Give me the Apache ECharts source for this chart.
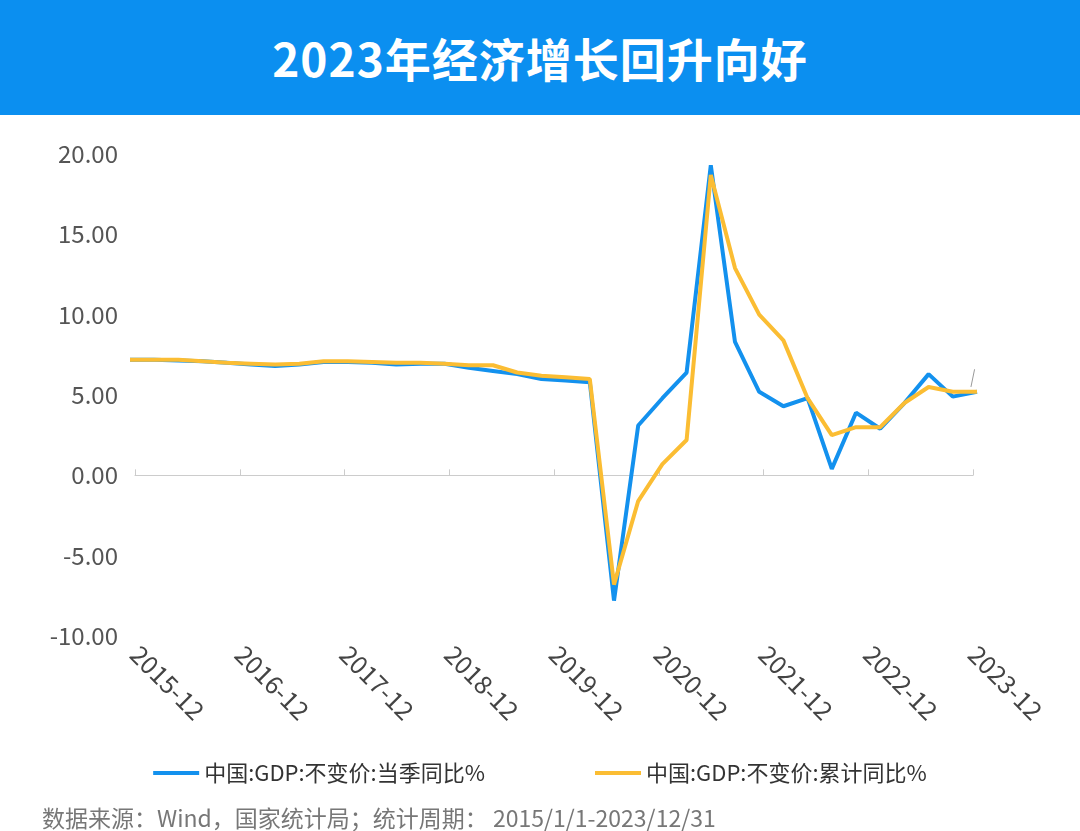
<!DOCTYPE html>
<html>
<head>
<meta charset="utf-8">
<script src="https://cdn.jsdelivr.net/npm/echarts@6/dist/echarts.min.js"></script>
<style>
  body { margin: 0; background: #fff; font-family: 'Noto Sans CJK SC', sans-serif; }
  #title { height: 115px; background: #0b8ff0; color: #fff; font-size: 46px; font-weight: bold;
           text-align: center; line-height: 115px; letter-spacing: 1px; }
  #chart { width: 1080px; height: 716px; }
  #src { position: absolute; left: 42px; top: 800px; font-size: 23px; color: #777; }
</style>
</head>
<body>
<div id="title">2023年经济增长回升向好</div>
<div id="chart"></div>
<div id="src">数据来源：Wind，国家统计局；统计周期： 2015/1/1-2023/12/31</div>
<script>
// Axis labels: quarters from 2015-12 to 2023-12
var categories = [];
for (var y = 2015; y <= 2023; y++) {
    ['03', '06', '09', '12'].forEach(function (m) {
        if (y === 2015 && m !== '12') return;
        categories.push(y + '-' + m);
    });
}

// Data: quarters 2015Q1 .. 2023Q4
var quarterly = [
    7.2, 7.2, 7.15, 7.1,
    7.0, 6.9, 6.8, 6.9,
    7.05, 7.05, 7.0, 6.9,
    6.95, 6.95, 6.7, 6.5,
    6.3, 6.0, 5.9, 5.8,
    -7.8, 3.1, 4.8, 6.4,
    19.3, 8.3, 5.2, 4.3,
    4.8, 0.4, 3.9, 2.9,
    4.5, 6.3, 4.9, 5.2];

var cumulative = [
    7.2, 7.2, 7.2, 7.1,
    7.0, 6.95, 6.9, 6.95,
    7.1, 7.1, 7.05, 7.0,
    7.0, 6.95, 6.85, 6.85,
    6.4, 6.2, 6.1, 6.0,
    -6.8, -1.6, 0.7, 2.2,
    18.7, 12.9, 10.0, 8.4,
    4.8, 2.5, 3.0, 3.0,
    4.5, 5.5, 5.2, 5.2];

var yTicks = [-10, -5, 0, 5, 10, 15, 20];

function pairs(arr) {
    return arr.map(function (v, i) { return [i, v]; });
}

var chart = echarts.init(document.getElementById('chart'));
chart.setOption({
    color: ['#1391ee', '#fbbd33'],
    textStyle: { fontFamily: 'Noto Sans CJK SC, sans-serif' },
    animation: false,
    grid: [
        { left: 130, right: 103, top: 39, bottom: 195 },
        { left: 135, right: 107, top: 39, bottom: 195 }
    ],
    legend: {
        bottom: 42,
        itemWidth: 46, itemHeight: 4, itemGap: 110,
        icon: 'rect',
        textStyle: { fontSize: 22, color: '#333' },
        data: ['中国:GDP:不变价:当季同比%', '中国:GDP:不变价:累计同比%']
    },
    xAxis: [{
        gridIndex: 0,
        type: 'value',
        min: 0, max: quarterly.length - 1,
        show: false
    }, {
        gridIndex: 1,
        type: 'category',
        data: categories,
        boundaryGap: false,
        position: 'bottom',
        axisLine: { onZero: false, show: false },
        axisTick: { show: false },
        axisLabel: {
            interval: 3, rotate: -45, fontSize: 25, color: '#444', margin: 14
        }
    }, {
        gridIndex: 1,
        type: 'category',
        data: categories,
        boundaryGap: false,
        axisLine: { onZero: true, lineStyle: { color: '#ccc' } },
        axisTick: { interval: 3, length: 6, lineStyle: { color: '#ccc' } },
        axisLabel: { show: false }
    }],
    yAxis: [{
        gridIndex: 0,
        type: 'value',
        min: yTicks[0], max: yTicks[yTicks.length - 1], interval: 5,
        axisLine: { show: false },
        axisTick: { show: false },
        splitLine: { show: false },
        axisLabel: {
            fontSize: 24, color: '#555', margin: 12,
            formatter: function (v) { return v.toFixed(2); }
        }
    }, {
        gridIndex: 1,
        type: 'value',
        min: yTicks[0], max: yTicks[yTicks.length - 1], interval: 5,
        show: false
    }],
    series: [{
        name: '中国:GDP:不变价:当季同比%',
        type: 'line',
        data: pairs(quarterly),
        symbol: 'none',
        lineStyle: { width: 4 }
    }, {
        name: '中国:GDP:不变价:累计同比%',
        type: 'line',
        data: pairs(cumulative).map(function (p, i) {
            if (i === cumulative.length - 1) {
                return {
                    value: p,
                    label: {
                        show: true, position: 'top', distance: 24, fontSize: 17, color: '#333',
                        formatter: function (d) { return d.value[1].toFixed(2); }
                    }
                };
            }
            return p;
        }),
        symbol: 'none',
        lineStyle: { width: 4 },
        markLine: {
            silent: true, symbol: 'none', label: { show: false },
            lineStyle: { color: '#999', width: 1, type: 'solid' },
            data: [[
                { coord: [cumulative.length - 1.25, 5.5] },
                { coord: [cumulative.length - 1.1, 6.6] }
            ]]
        }
    }]
});
</script>
</body>
</html>
